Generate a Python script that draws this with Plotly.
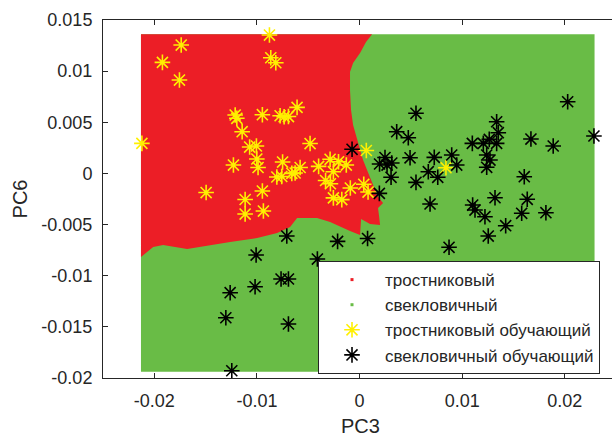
import plotly.graph_objects as go

# ---- data ----
# training points, class "тростниковый" (cane)
cane_x = [-0.00878, -0.01738, -0.01921, -0.01755, -0.00865, -0.00816, -0.02121, -0.01212,
          -0.01196, -0.00947, -0.00774, -0.00735, -0.00693, -0.00609, -0.01144, -0.01071,
          -0.01005, -0.01001, -0.00989, -0.01229, -0.00750, -0.00482, -0.00806, -0.00758,
          -0.00660, -0.00628, -0.00579, -0.00399, -0.00287, -0.00205, -0.00129, -0.00255,
          -0.00331, -0.00284, -0.00090, 0.00041, 0.00083, -0.01495, -0.01115, -0.00947,
          -0.01115, -0.00937, -0.00255, -0.00173, 0.00066, 0.00842]
cane_y = [0.01353, 0.01255, 0.01086, 0.00913, 0.01131, 0.01082, 0.00294, 0.00571,
          0.00539, 0.00574, 0.00564, 0.00554, 0.00556, 0.00646, 0.00408, 0.00258,
          0.00268, 0.00141, 0.00058, 0.00082, 0.00111, 0.00292, -0.00035, -0.00030,
          0.00001, 0.00004, 0.00058, 0.00069, 0.00138, 0.00114, 0.00082, 0.00017,
          -0.00069, -0.00101, -0.00143, -0.00106, -0.00182, -0.00187, -0.00255, -0.00172,
          -0.00397, -0.00368, -0.00239, -0.00256, 0.00224, 0.00056]

# training points, class "свекловичный" (beet)
beet_x = [0.02028, 0.02284, 0.00550, 0.00362, 0.00475, 0.01336, 0.01352, 0.01264,
          0.01206, 0.01099, 0.01336, 0.01239, 0.01271, 0.01239, 0.01670, 0.01887,
          -0.00073, 0.00248, 0.00195, 0.00268, 0.00314, 0.00492, 0.00728, 0.00898,
          0.00947, 0.00670, 0.00762, 0.00307, 0.00550, 0.00193, 0.01605, 0.00687,
          0.01102, 0.01125, 0.01320, 0.01222, 0.01634, 0.01580, 0.01816, 0.01424,
          0.01254, 0.00078, 0.00872, -0.00214, -0.00709, -0.01008, -0.00411, -0.00765,
          -0.00693, -0.01018, -0.01261, -0.01303, -0.00693, -0.01245]
beet_y = [0.00701, 0.00366, 0.00588, 0.00408, 0.00349, 0.00505, 0.00398, 0.00333,
          0.00294, 0.00294, 0.00294, 0.00180, 0.00131, 0.00060, 0.00336, 0.00268,
          0.00236, 0.00155, 0.00092, 0.00082, 0.00102, 0.00153, 0.00157, 0.00180,
          0.00082, 0.00017, -0.00038, -0.00038, -0.00087, -0.00195, -0.00032, -0.00299,
          -0.00309, -0.00358, -0.00238, -0.00423, -0.00253, -0.00390, -0.00384, -0.00511,
          -0.00612, -0.00636, -0.00722, -0.00664, -0.00612, -0.00798, -0.00837, -0.01032,
          -0.01032, -0.01108, -0.01166, -0.01411, -0.01472, -0.01929]

# extent of the classified grid
grid_x = [-0.0213, 0.0229]
grid_y = [-0.0194, 0.0136]

# boundary of the region classified as "тростниковый"
red_x = [-0.0213, 0.00122, 0.00063, 0.00005, -0.00063, -0.00093, -0.00093, -0.00083,
         -0.00063, -0.00034, 0.00005, 0.00034, 0.00073, 0.00122, 0.00180, 0.00229,
         0.00180, 0.00190, 0.00200, 0.00102, 0.00015, 0.00005, -0.00093, -0.00287,
         -0.00414, -0.00609, -0.00677, -0.00803, -0.00998, -0.01261, -0.01427, -0.01680,
         -0.01914, -0.02011, -0.0213]
red_y = [0.0136, 0.0136, 0.01285, 0.01177, 0.01079, 0.00991, 0.00815, 0.00620,
         0.00473, 0.00375, 0.00229, 0.00131, 0.00033, -0.00094, -0.00231, -0.00289,
         -0.00338, -0.00416, -0.00504, -0.00495, -0.00446, -0.00602, -0.00563, -0.00475,
         -0.00436, -0.00436, -0.00524, -0.00583, -0.00632, -0.00671, -0.00700, -0.00739,
         -0.00700, -0.00720, -0.00817]

x_ticks = [-0.02, -0.01, 0, 0.01, 0.02]
x_ticklabels = ["-0.02", "-0.01", "0", "0.01", "0.02"]
y_ticks = [-0.02, -0.015, -0.01, -0.005, 0, 0.005, 0.01, 0.015]
y_ticklabels = ["-0.02", "-0.015", "-0.01", "-0.005", "0", "0.005", "0.01", "0.015"]

names = ["тростниковый", "свекловичный", "тростниковый обучающий", "свекловичный обучающий"]

RED = "#EC1E26"
GREEN = "#69BC46"
YELLOW = "#FFF000"
AX = "#262626"
FONT = "Arial, Liberation Sans, sans-serif"

fig = go.Figure()

# green region (whole grid)
fig.add_trace(go.Scatter(
    x=[grid_x[0], grid_x[1], grid_x[1], grid_x[0], grid_x[0]],
    y=[grid_y[0], grid_y[0], grid_y[1], grid_y[1], grid_y[0]],
    mode="lines", fill="toself", fillcolor=GREEN, line=dict(width=0, color=GREEN),
    showlegend=False, hoverinfo="skip"))
# red region
fig.add_trace(go.Scatter(
    x=red_x + [red_x[0]], y=red_y + [red_y[0]],
    mode="lines", fill="toself", fillcolor=RED, line=dict(width=0, color=RED),
    showlegend=False, hoverinfo="skip"))

# legend entries for the regions (small dots)
fig.add_trace(go.Scatter(x=[None], y=[None], mode="markers", name=names[0],
                         marker=dict(color=RED, size=3, symbol="square")))
fig.add_trace(go.Scatter(x=[None], y=[None], mode="markers", name=names[1],
                         marker=dict(color=GREEN, size=3, symbol="square")))

# training points
fig.add_trace(go.Scatter(x=cane_x, y=cane_y, mode="markers", name=names[2],
                         marker=dict(symbol="asterisk-open", size=13, color=YELLOW,
                                     line=dict(color=YELLOW, width=1.6))))
fig.add_trace(go.Scatter(x=beet_x, y=beet_y, mode="markers", name=names[3],
                         marker=dict(symbol="asterisk-open", size=13, color="black",
                                     line=dict(color="black", width=1.6))))

axis_common = dict(showgrid=False, zeroline=False, showline=True, linecolor=AX,
                   linewidth=1, ticks="inside", ticklen=5,
                   tickcolor=AX, tickfont=dict(family=FONT, size=18, color=AX))

fig.update_layout(
    width=612, height=437,
    margin=dict(l=103, r=0, t=20, b=59),
    paper_bgcolor="white", plot_bgcolor="white",
    xaxis=dict(range=[-0.025, 0.0246], tickvals=x_ticks, ticktext=x_ticklabels,
               ticklabelstandoff=6, mirror="ticks", **axis_common),
    yaxis=dict(range=[-0.02, 0.015], tickvals=y_ticks, ticktext=y_ticklabels,
               ticklabelstandoff=6, mirror=False,
               title=dict(text="PC6", font=dict(family=FONT, size=20, color=AX), standoff=8),
               **axis_common),
    legend=dict(x=0.4224, y=0.011, xanchor="left", yanchor="bottom",
                bgcolor="white", bordercolor=AX, borderwidth=1,
                font=dict(family=FONT, size=17, color=AX), itemwidth=56,
                tracegroupgap=0),
    showlegend=True,
    annotations=[dict(text="PC3", xref="paper", yref="paper", x=0.505, y=-0.135,
                      xanchor="center", yanchor="middle", showarrow=False,
                      font=dict(family=FONT, size=20, color=AX))],
)

fig.write_html("out.html")
